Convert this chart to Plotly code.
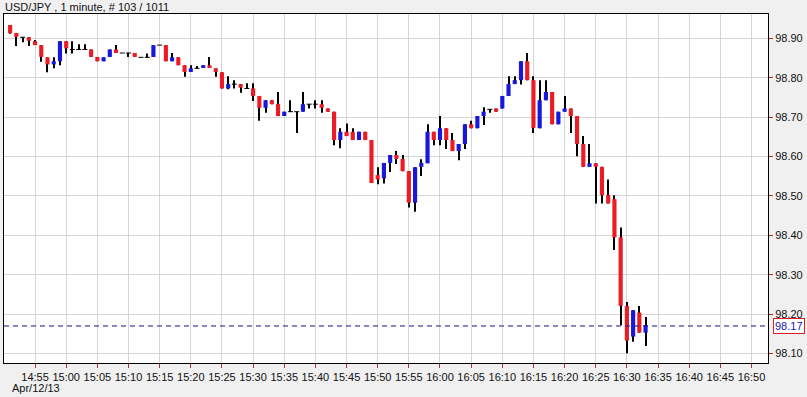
import plotly.graph_objects as go
import pandas as pd

# ---- data ----
times = pd.date_range("2013-04-12 14:51", periods=103, freq="min")

open_ = [98.934, 98.914, 98.903, 98.903, 98.893, 98.883, 98.852, 98.834, 98.842, 98.893,
         98.872, 98.872, 98.872, 98.872, 98.853, 98.842, 98.853, 98.872, 98.863, 98.863,
         98.863, 98.852, 98.852, 98.853, 98.883, 98.883, 98.842, 98.852, 98.832, 98.815,
         98.824, 98.825, 98.832, 98.824, 98.814, 98.773, 98.784, 98.784, 98.773, 98.773,
         98.754, 98.724, 98.743, 98.733, 98.703, 98.714, 98.714, 98.714, 98.733, 98.733,
         98.733, 98.722, 98.714, 98.642, 98.663, 98.663, 98.642, 98.663, 98.642, 98.553,
         98.545, 98.584, 98.604, 98.594, 98.563, 98.483, 98.574, 98.583, 98.663, 98.642,
         98.672, 98.642, 98.614, 98.632, 98.682, 98.672, 98.703, 98.720, 98.722, 98.722,
         98.754, 98.784, 98.794, 98.842, 98.794, 98.672, 98.743, 98.764, 98.682, 98.714,
         98.722, 98.703, 98.632, 98.574, 98.583, 98.574, 98.502, 98.492, 98.395, 98.221,
         98.143, 98.204, 98.153]
high = [98.934, 98.914, 98.903, 98.903, 98.896, 98.883, 98.852, 98.852, 98.893, 98.893,
        98.893, 98.885, 98.885, 98.872, 98.853, 98.852, 98.872, 98.883, 98.863, 98.863,
        98.863, 98.852, 98.862, 98.883, 98.883, 98.883, 98.863, 98.852, 98.832, 98.832,
        98.830, 98.832, 98.853, 98.824, 98.814, 98.804, 98.794, 98.784, 98.786, 98.786,
        98.754, 98.743, 98.743, 98.764, 98.714, 98.743, 98.714, 98.764, 98.733, 98.743,
        98.743, 98.722, 98.714, 98.672, 98.684, 98.672, 98.663, 98.663, 98.642, 98.573,
        98.584, 98.604, 98.614, 98.604, 98.563, 98.573, 98.593, 98.682, 98.663, 98.703,
        98.672, 98.660, 98.632, 98.682, 98.691, 98.703, 98.725, 98.720, 98.722, 98.754,
        98.804, 98.804, 98.842, 98.863, 98.804, 98.794, 98.794, 98.764, 98.714, 98.754,
        98.722, 98.703, 98.652, 98.632, 98.583, 98.574, 98.542, 98.502, 98.420, 98.231,
        98.210, 98.221, 98.193]
low = [98.912, 98.881, 98.890, 98.881, 98.883, 98.841, 98.814, 98.824, 98.832, 98.862,
       98.862, 98.872, 98.872, 98.853, 98.842, 98.842, 98.853, 98.863, 98.863, 98.853,
       98.853, 98.852, 98.852, 98.853, 98.883, 98.842, 98.842, 98.832, 98.803, 98.815,
       98.824, 98.825, 98.825, 98.803, 98.773, 98.771, 98.773, 98.762, 98.773, 98.741,
       98.691, 98.711, 98.733, 98.703, 98.703, 98.714, 98.660, 98.714, 98.722, 98.722,
       98.711, 98.714, 98.629, 98.621, 98.652, 98.642, 98.642, 98.642, 98.533, 98.530,
       98.532, 98.561, 98.581, 98.563, 98.471, 98.460, 98.551, 98.583, 98.629, 98.629,
       98.619, 98.614, 98.591, 98.619, 98.672, 98.672, 98.680, 98.711, 98.714, 98.722,
       98.754, 98.784, 98.783, 98.794, 98.660, 98.672, 98.743, 98.682, 98.682, 98.714,
       98.660, 98.601, 98.574, 98.574, 98.481, 98.481, 98.481, 98.363, 98.172, 98.101,
       98.130, 98.153, 98.119]
close = [98.913, 98.904, 98.903, 98.894, 98.883, 98.853, 98.834, 98.842, 98.893, 98.875,
         98.872, 98.872, 98.872, 98.853, 98.842, 98.852, 98.872, 98.863, 98.863, 98.863,
         98.853, 98.852, 98.852, 98.883, 98.883, 98.842, 98.852, 98.832, 98.815, 98.824,
         98.824, 98.832, 98.825, 98.815, 98.773, 98.784, 98.784, 98.775, 98.773, 98.754,
         98.724, 98.743, 98.733, 98.703, 98.714, 98.714, 98.714, 98.733, 98.733, 98.733,
         98.724, 98.714, 98.642, 98.663, 98.652, 98.642, 98.663, 98.642, 98.533, 98.542,
         98.584, 98.604, 98.594, 98.563, 98.483, 98.573, 98.584, 98.663, 98.642, 98.672,
         98.642, 98.614, 98.632, 98.682, 98.672, 98.703, 98.714, 98.720, 98.714, 98.754,
         98.784, 98.794, 98.842, 98.794, 98.673, 98.743, 98.764, 98.682, 98.714, 98.722,
         98.703, 98.632, 98.574, 98.583, 98.574, 98.502, 98.481, 98.395, 98.221, 98.133,
         98.210, 98.153, 98.172]

last_price = 98.17
title_text = "USD/JPY , 1 minute, # 103 / 1011"
date_text = "Apr/12/13"

# ---- styling ----
RED = "#ec1c24"
BLUE = "#1818dc"
GRID = "#d6d6d6"
TICKC = "#b03030"
FONT = "Liberation Sans, Arial, sans-serif"

body_base = [min(o, c) for o, c in zip(open_, close)]
body_h = [abs(c - o) for o, c in zip(open_, close)]
body_col = [RED if c < o else (BLUE if c > o else "black") for o, c in zip(open_, close)]
wick_h = [h - l for h, l in zip(high, low)]
doji_x = [t for t, o, c in zip(times, open_, close) if o == c]
doji_y = [o for o, c in zip(open_, close) if o == c]

fig = go.Figure()
fig.add_trace(go.Bar(x=times, y=wick_h, base=low, width=10000,
                     marker=dict(color="black", line=dict(width=0)), hoverinfo="skip"))
fig.add_trace(go.Bar(x=times, y=body_h, base=body_base, width=40000,
                     marker=dict(color=body_col, line=dict(width=0)), hoverinfo="skip"))
fig.add_trace(go.Scatter(x=doji_x, y=doji_y, mode="markers",
                         marker=dict(symbol="line-ew", size=3.6,
                                     line=dict(color="black", width=1)),
                         hoverinfo="skip"))

fig.add_shape(type="line", xref="paper", x0=0, x1=1, yref="y", y0=last_price, y1=last_price,
              line=dict(color="#14148a", width=1, dash="5px,4px"))

fig.add_annotation(xref="paper", yref="paper", x=0, y=1, xanchor="left", yanchor="bottom",
                   text=title_text, showarrow=False, borderpad=0,
                   font=dict(family=FONT, size=11, color="#111"))
fig.add_annotation(xref="paper", yref="paper", x=0.009, y=0, xanchor="left", yanchor="middle",
                   yshift=-25, text=date_text, showarrow=False, borderpad=0,
                   font=dict(family=FONT, size=11, color="#111"))
fig.add_annotation(xref="paper", yref="y", x=1, y=last_price, xanchor="left", yanchor="middle",
                   xshift=5, text=f"{last_price:.2f}", showarrow=False, borderpad=1,
                   bordercolor="#e02020", borderwidth=1, bgcolor="white",
                   font=dict(family=FONT, size=11, color="#1818c8"))

axis_common = dict(showgrid=True, gridcolor=GRID, gridwidth=1, zeroline=False,
                   showline=True, mirror=True, linecolor="black", linewidth=1,
                   ticks="outside", ticklen=4, tickcolor=TICKC, tickwidth=1,
                   tickfont=dict(family=FONT, size=11, color="#111"))

fig.update_layout(
    width=807, height=397,
    margin=dict(l=4, r=39, t=14, b=34),
    paper_bgcolor="#f0f0f0", plot_bgcolor="white",
    barmode="overlay", showlegend=False,
    xaxis=dict(type="date", range=["2013-04-12 14:50:01", "2013-04-12 16:52:39"],
               tick0="2013-04-12 14:55", dtick=300000, tickformat="%H:%M", **axis_common),
    yaxis=dict(side="right", range=[98.076, 98.962], tick0=98.1, dtick=0.1,
               tickformat=".2f", **axis_common),
)

fig.write_html("out.html", config={"displayModeBar": False},
               post_script="document.body.style.margin='0px';document.body.style.background='#f0f0f0';")
